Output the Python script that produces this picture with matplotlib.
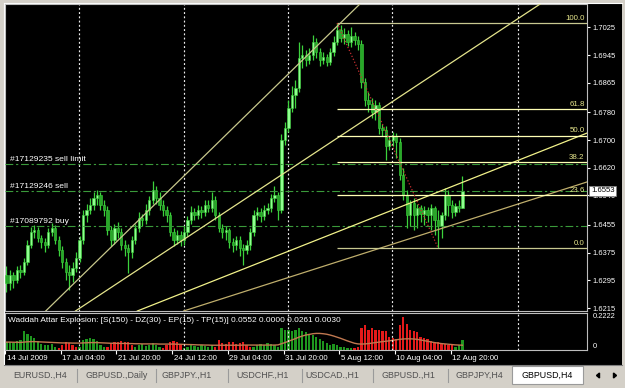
import matplotlib
matplotlib.use("Agg")
import matplotlib.pyplot as plt
import matplotlib.transforms as mtransforms
from matplotlib.patches import Rectangle, Polygon
import numpy as np

plt.rcParams['font.family'] = ['Liberation Sans', 'DejaVu Sans']

# ---------------- data ----------------
header = "GBPUSD,H4  1.6504 1.6595 1.6504 1.6553"
copyright_txt = "copyright waddahattar@hotmail.com"

opens = [1.6311, 1.6288, 1.6311, 1.6296, 1.6325, 1.6319, 1.6348, 1.6397, 1.6435, 1.6440,
         1.6417, 1.6406, 1.6397, 1.6435, 1.6446, 1.6412, 1.6383, 1.6348, 1.6319, 1.6311,
         1.6331, 1.6360, 1.6412, 1.6484, 1.6498, 1.6512, 1.6533, 1.6541, 1.6512, 1.6498,
         1.6440, 1.6412, 1.6446, 1.6435, 1.6397, 1.6389, 1.6377, 1.6412, 1.6446, 1.6475,
         1.6469, 1.6498, 1.6527, 1.6556, 1.6533, 1.6512, 1.6498, 1.6484, 1.6435, 1.6412,
         1.6426, 1.6412, 1.6435, 1.6469, 1.6492, 1.6484, 1.6498, 1.6492, 1.6512, 1.6504,
         1.6527, 1.6484, 1.6446, 1.6435, 1.6440, 1.6406, 1.6397, 1.6412, 1.6389, 1.6383,
         1.6397, 1.6435, 1.6484, 1.6492, 1.6481, 1.6498, 1.6504, 1.6533, 1.6541, 1.6498,
         1.6700, 1.6735, 1.6792, 1.6830, 1.6850, 1.6937, 1.6945, 1.6931, 1.6945, 1.6983,
         1.6954, 1.6931, 1.6939, 1.6925, 1.6954, 1.6983, 1.7017, 1.6994, 1.7006, 1.6983,
         1.7000, 1.6988, 1.6977, 1.6867, 1.6815, 1.6804, 1.6781, 1.6801, 1.6735, 1.6729,
         1.6683, 1.6700, 1.6712, 1.6694, 1.6599, 1.6541, 1.6484, 1.6518, 1.6484, 1.6504,
         1.6487, 1.6498, 1.6484, 1.6504, 1.6469, 1.6452, 1.6484, 1.6541, 1.6512, 1.6492,
         1.6510, 1.6504]
highs = [1.6337, 1.6325, 1.6319, 1.6337, 1.6340, 1.6360, 1.6412, 1.6449, 1.6455, 1.6449,
         1.6426, 1.6417, 1.6446, 1.6461, 1.6455, 1.6423, 1.6394, 1.6360, 1.6340, 1.6348,
         1.6377, 1.6423, 1.6498, 1.6515, 1.6533, 1.6550, 1.6556, 1.6550, 1.6527, 1.6510,
         1.6452, 1.6458, 1.6464, 1.6446, 1.6412, 1.6400, 1.6423, 1.6458, 1.6492, 1.6487,
         1.6515, 1.6539, 1.6582, 1.6567, 1.6550, 1.6527, 1.6510, 1.6492, 1.6446, 1.6440,
         1.6438, 1.6452, 1.6481, 1.6510, 1.6504, 1.6512, 1.6510, 1.6527, 1.6527, 1.6550,
         1.6539, 1.6492, 1.6458, 1.6452, 1.6446, 1.6417, 1.6423, 1.6423, 1.6400, 1.6412,
         1.6446, 1.6498, 1.6507, 1.6504, 1.6512, 1.6518, 1.6544, 1.6567, 1.6550, 1.6717,
         1.6752, 1.6815, 1.6856, 1.6873, 1.6983, 1.6974, 1.6960, 1.6965, 1.7003, 1.6994,
         1.6965, 1.6954, 1.6948, 1.6965, 1.7000, 1.7038, 1.7032, 1.7023, 1.7017, 1.7026,
         1.7012, 1.7000, 1.6988, 1.6879, 1.6838, 1.6821, 1.6815, 1.6810, 1.6746, 1.6740,
         1.6712, 1.6723, 1.6720, 1.6706, 1.6619, 1.6556, 1.6527, 1.6533, 1.6515, 1.6512,
         1.6510, 1.6507, 1.6515, 1.6510, 1.6498, 1.6492, 1.6562, 1.6556, 1.6527, 1.6518,
         1.6527, 1.6595]
lows = [1.6262, 1.6267, 1.6273, 1.6288, 1.6302, 1.6311, 1.6340, 1.6389, 1.6417, 1.6406,
        1.6389, 1.6377, 1.6389, 1.6423, 1.6400, 1.6365, 1.6331, 1.6296, 1.6267, 1.6290,
        1.6319, 1.6348, 1.6400, 1.6464, 1.6487, 1.6498, 1.6512, 1.6498, 1.6481, 1.6426,
        1.6394, 1.6400, 1.6417, 1.6383, 1.6365, 1.6316, 1.6360, 1.6400, 1.6435, 1.6452,
        1.6458, 1.6484, 1.6515, 1.6515, 1.6498, 1.6481, 1.6464, 1.6423, 1.6394, 1.6400,
        1.6394, 1.6397, 1.6423, 1.6458, 1.6469, 1.6472, 1.6475, 1.6481, 1.6492, 1.6492,
        1.6469, 1.6435, 1.6417, 1.6412, 1.6389, 1.6377, 1.6383, 1.6365, 1.6340, 1.6371,
        1.6383, 1.6423, 1.6469, 1.6464, 1.6469, 1.6487, 1.6492, 1.6521, 1.6469, 1.6489,
        1.6686, 1.6723, 1.6781, 1.6792, 1.6838, 1.6908, 1.6913, 1.6919, 1.6931, 1.6937,
        1.6913, 1.6919, 1.6913, 1.6916, 1.6942, 1.6974, 1.6983, 1.6977, 1.6971, 1.6968,
        1.6974, 1.6960, 1.6850, 1.6798, 1.6781, 1.6764, 1.6758, 1.6717, 1.6712, 1.6642,
        1.6671, 1.6683, 1.6648, 1.6585, 1.6527, 1.6446, 1.6452, 1.6440, 1.6446, 1.6464,
        1.6455, 1.6464, 1.6440, 1.6426, 1.6389, 1.6417, 1.6469, 1.6481, 1.6475, 1.6481,
        1.6492, 1.6504]
closes = [1.6288, 1.6311, 1.6296, 1.6325, 1.6319, 1.6348, 1.6397, 1.6435, 1.6440, 1.6417,
          1.6406, 1.6397, 1.6435, 1.6446, 1.6412, 1.6383, 1.6348, 1.6319, 1.6311, 1.6331,
          1.6360, 1.6412, 1.6484, 1.6498, 1.6512, 1.6533, 1.6541, 1.6512, 1.6498, 1.6440,
          1.6412, 1.6446, 1.6435, 1.6397, 1.6389, 1.6377, 1.6412, 1.6446, 1.6475, 1.6469,
          1.6498, 1.6527, 1.6556, 1.6533, 1.6512, 1.6498, 1.6484, 1.6435, 1.6412, 1.6426,
          1.6412, 1.6435, 1.6469, 1.6492, 1.6484, 1.6498, 1.6492, 1.6512, 1.6504, 1.6527,
          1.6484, 1.6446, 1.6435, 1.6440, 1.6406, 1.6397, 1.6412, 1.6389, 1.6383, 1.6397,
          1.6435, 1.6484, 1.6492, 1.6481, 1.6498, 1.6504, 1.6533, 1.6541, 1.6498, 1.6700,
          1.6735, 1.6792, 1.6830, 1.6850, 1.6937, 1.6945, 1.6931, 1.6945, 1.6983, 1.6954,
          1.6931, 1.6939, 1.6925, 1.6954, 1.6983, 1.7017, 1.6994, 1.7006, 1.6983, 1.7000,
          1.6988, 1.6977, 1.6867, 1.6815, 1.6804, 1.6781, 1.6801, 1.6735, 1.6729, 1.6683,
          1.6700, 1.6712, 1.6694, 1.6599, 1.6541, 1.6484, 1.6518, 1.6484, 1.6504, 1.6487,
          1.6498, 1.6484, 1.6504, 1.6469, 1.6452, 1.6484, 1.6541, 1.6512, 1.6492, 1.6510,
          1.6504, 1.6553]

price_ticks = [1.7025, 1.6945, 1.6865, 1.6780, 1.6700, 1.6620, 1.6540, 1.6455, 1.6375, 1.6295, 1.6215]
time_tick_bars = [-0.4, 15.6, 31.6, 47.6, 63.6, 79.6, 95.6, 111.6, 127.6]
time_labels = ["14 Jul 2009", "17 Jul 04:00", "21 Jul 20:00", "24 Jul 12:00", "29 Jul 04:00",
               "31 Jul 20:00", "5 Aug 12:00", "10 Aug 04:00", "12 Aug 20:00"]
grid_bars = [20.7, 50.9, 81.0, 110.9, 147.1]

fib_levels = [0.0, 23.6, 38.2, 50.0, 61.8, 100.0]
fib_low, fib_high = 1.6389, 1.7037
fib_high_bar, fib_low_bar = 95, 124

order_labels = ["#17129235 sell limit", "#17129246 sell", "#17089792 buy"]
order_prices = [1.6630, 1.6553, 1.6452]

trend_p1 = [(11.6, 1.6210), (20.3, 1.6210), (38.4, 1.6210), (51.9, 1.6210)]
trend_p2 = [(90.1, 1.6980), (153.3, 1.7092), (166.8, 1.6720), (166.8, 1.6579)]
trend_colors = ['#c8c88c', '#e4e48c', '#f2f28a', '#bfae6c']

wae_title = "Waddah Attar Explosion: [S(150) - DZ(30) - EP(15) - TP(15)] 0.0552 0.0000 0.0261 0.0030"
wae = [0.043, 0.048, 0.039, 0.052, 0.056, 0.113, 0.095, 0.082, 0.069, 0.052,
       0.035, 0.026, 0.030, 0.035, 0.017, -0.009, -0.026, -0.043, -0.039, -0.030,
       -0.017, 0.017, 0.056, 0.065, 0.069, 0.065, 0.052, 0.026, 0.013, -0.017,
       -0.039, -0.048, -0.043, -0.052, -0.048, -0.043, -0.030, 0.013, 0.026, 0.035,
       0.022, 0.030, 0.039, 0.026, 0.017, -0.009, -0.026, -0.048, -0.052, -0.043,
       -0.035, 0.009, 0.017, 0.026, 0.022, 0.017, 0.026, 0.022, 0.017, 0.026,
       -0.013, -0.056, -0.039, -0.035, -0.048, -0.043, -0.035, -0.039, -0.048, -0.026,
       -0.017, 0.017, 0.026, 0.035, 0.030, 0.039, 0.035, 0.026, 0.017, 0.130,
       0.121, 0.117, 0.113, 0.121, 0.130, 0.113, 0.104, 0.095, 0.087, 0.074,
       0.061, 0.052, 0.039, 0.026, 0.035, 0.026, 0.017, 0.013, 0.009, 0.007,
       -0.009, -0.017, -0.130, -0.147, -0.121, -0.130, -0.121, -0.117, -0.113, -0.113,
       -0.078, -0.069, -0.065, -0.147, -0.200, -0.156, -0.121, -0.113, -0.104, -0.078,
       -0.069, -0.065, -0.052, -0.043, -0.048, -0.039, -0.035, -0.030, -0.026, 0.017,
       0.026, 0.0552]
explosion = [0.045, 0.045, 0.044, 0.044, 0.043, 0.045, 0.047, 0.048, 0.048, 0.047,
             0.046, 0.045, 0.044, 0.043, 0.042, 0.041, 0.040, 0.040, 0.040, 0.039,
             0.039, 0.039, 0.040, 0.041, 0.042, 0.042, 0.042, 0.041, 0.040, 0.039,
             0.038, 0.038, 0.037, 0.037, 0.037, 0.036, 0.036, 0.035, 0.035, 0.034,
             0.034, 0.034, 0.034, 0.034, 0.033, 0.033, 0.033, 0.033, 0.033, 0.032,
             0.032, 0.031, 0.030, 0.030, 0.029, 0.028, 0.028, 0.027, 0.027, 0.026,
             0.026, 0.026, 0.026, 0.026, 0.026, 0.026, 0.026, 0.026, 0.027, 0.027,
             0.027, 0.027, 0.027, 0.027, 0.027, 0.027, 0.027, 0.027, 0.028, 0.035,
             0.042, 0.050, 0.058, 0.066, 0.075, 0.082, 0.088, 0.092, 0.096, 0.098,
             0.098, 0.096, 0.093, 0.088, 0.082, 0.075, 0.068, 0.060, 0.052, 0.045,
             0.038, 0.034, 0.033, 0.034, 0.036, 0.039, 0.042, 0.045, 0.048, 0.050,
             0.053, 0.056, 0.059, 0.062, 0.064, 0.065, 0.065, 0.064, 0.062, 0.058,
             0.054, 0.050, 0.046, 0.042, 0.039, 0.036, 0.034, 0.032, 0.030, 0.028,
             0.027, 0.0261]
wae_max = 0.2222

tabs = ["EURUSD.,H4", "GBPUSD.,Daily", "GBPJPY.,H1", "USDCHF.,H1", "USDCAD.,H1",
        "GBPUSD.,H1", "GBPJPY,H4", "GBPUSD,H4"]

# ---------------- figure ----------------
W, H = 625, 388
fig = plt.figure(figsize=(W / 100, H / 100), dpi=100)
fig.patch.set_facecolor('#d4d0c8')

bg = fig.add_axes([0, 0, 1, 1], zorder=0)
bg.set_xlim(0, W)
bg.set_ylim(H, 0)
bg.axis('off')
bg.add_patch(Rectangle((4, 3), 618, 361.5, facecolor='black', edgecolor='none'))
bg.plot([3.5, 3.5], [2.5, 364.5], color='white', lw=0.8)
bg.plot([3.5, 622], [2.5, 2.5], color='white', lw=0.8)
bg.plot([4, 622], [364.5, 364.5], color='#808080', lw=0.8)

# tab strip
tab_centers = [40.5, 117, 187, 262.5, 332.5, 408, 479.5, 547.5]
seps = [77, 156, 228, 302, 373, 448]
bg.add_patch(Rectangle((512, 366), 71, 18, facecolor='white', edgecolor='#9a9a9a', lw=0.8))
for i, (t, cx) in enumerate(zip(tabs, tab_centers)):
    bg.text(cx, 375.5, t, ha='center', va='center', fontsize=6.4,
            color='black' if i == len(tabs) - 1 else '#505050')
for s in seps:
    bg.plot([s, s], [369, 382], color='#9a9a9a', lw=0.8)
bg.add_patch(Polygon([[596.5, 375.5], [599.5, 373], [599.5, 378]], closed=True, color='black'))
bg.add_patch(Polygon([[616.5, 375.5], [613.5, 373], [613.5, 378]], closed=True, color='black'))

# header text
bg.text(8, 12, header, fontsize=6.4, color='white', va='center', ha='left')
bg.text(8, 20.5, copyright_txt, fontsize=6.4, color='white', va='center', ha='left')
# chart shift marker
bg.add_patch(Polygon([[466, 5], [472, 5], [469, 9]], closed=True, color='#909090'))

# ---------------- main price axes ----------------
x_lo, x_hi = -0.43, 166.8
ax = fig.add_axes([5 / W, 1 - 311 / H, 582 / W, 307 / H], zorder=1)
ax.set_facecolor('black')
ax.set_xlim(x_lo, x_hi)
ax.set_ylim(1.62068, 1.70923)
for sp in ax.spines.values():
    sp.set_color('#bdbdbd')
    sp.set_linewidth(0.8)

n = len(closes)
xs = np.arange(n)
o = np.array(opens); c = np.array(closes); h = np.array(highs); l = np.array(lows)
up = c >= o
ax.vlines(xs, l, h, color='#3cd23c', lw=0.9, zorder=2)
body_bottom = np.minimum(o, c)
body_h = np.maximum(np.abs(c - o), 0.00015)
ax.bar(xs[up], body_h[up], bottom=body_bottom[up], width=0.66,
       color='#90ff90', edgecolor='#3cd23c', lw=0.4, zorder=3)
ax.bar(xs[~up], body_h[~up], bottom=body_bottom[~up], width=0.66,
       color='#28a828', edgecolor='#3cd23c', lw=0.4, zorder=3)

grid_style = (0, (1.6, 2.0))
for gb in grid_bars:
    ax.axvline(gb, color='#ececec', lw=0.85, ls=grid_style, zorder=1)

# order lines
for lab, pr in zip(order_labels, order_prices):
    ax.axhline(pr, color='#3a9a3a', lw=0.8, ls=(0, (7, 2.5, 2, 2.5)), zorder=4)
    ax.text(0.009, pr + 0.0004, lab, transform=mtransforms.blended_transform_factory(ax.transAxes, ax.transData),
            fontsize=6.1, color='white', ha='left', va='bottom', zorder=6)

# trend lines
for p1, p2, col in zip(trend_p1, trend_p2, trend_colors):
    ax.axline(p1, p2, color=col, lw=0.9, zorder=5)

# fibonacci
blend = mtransforms.blended_transform_factory(ax.transAxes, ax.transData)
for lvl in fib_levels:
    pr = fib_low + (fib_high - fib_low) * lvl / 100.0
    col = '#c8c890' if lvl in (0.0, 100.0) else '#ffffb4'
    ax.hlines(pr, fib_high_bar, x_hi, color=col, lw=0.9, zorder=5)
    ax.text(0.996, pr + 0.0003, f"{lvl:.1f}", transform=blend, fontsize=5.7,
            color='#e6e68c', ha='right', va='bottom', zorder=6)
ax.plot([fib_high_bar, fib_low_bar], [fib_high, fib_low], color='#c83030',
        lw=0.9, ls=(0, (1, 1.6)), zorder=5)

ax.set_xticks([])
ax.yaxis.tick_right()
ax.set_yticks(price_ticks)
ax.set_yticklabels([f"{p:.4f}" for p in price_ticks])
ax.tick_params(axis='y', colors='white', labelcolor='white', length=2.5, width=0.8,
               pad=1.5, labelsize=5.4, direction='out')

ax.text(1 + 4 / 582, closes[-1], f"{closes[-1]:.4f}", transform=blend, fontsize=5.6,
        color='black', ha='left', va='center', clip_on=False, zorder=10,
        bbox=dict(boxstyle='square,pad=0.2', facecolor='white', edgecolor='#808080', lw=0.5))

# ---------------- indicator axes ----------------
ax2 = fig.add_axes([5 / W, 1 - 349.5 / H, 582 / W, 36.5 / H], zorder=1)
ax2.set_facecolor('black')
ax2.set_xlim(x_lo, x_hi)
ax2.set_ylim(0, wae_max)
for sp in ax2.spines.values():
    sp.set_color('#bdbdbd')
    sp.set_linewidth(0.8)
wv = np.array(wae)
ax2.bar(xs[wv > 0], wv[wv > 0], width=0.66, color='#1e961e', zorder=2)
ax2.bar(xs[wv < 0], -wv[wv < 0], width=0.66, color='#e41a1a', zorder=2)
ax2.plot(xs, explosion, color='#c07850', lw=1.0, zorder=3)
for gb in grid_bars:
    ax2.axvline(gb, color='#ececec', lw=0.85, ls=grid_style, zorder=4)
ax2.text(0.005, 0.80, wae_title, transform=ax2.transAxes, fontsize=5.95, color='white',
         ha='left', va='center', zorder=6)

ax2.yaxis.tick_right()
ax2.set_yticks([0, wae_max])
ax2.set_yticklabels(['0', f"{wae_max:.4f}"])
ax2.tick_params(axis='y', colors='white', labelcolor='white', length=0, pad=4, labelsize=5.4)
yt = ax2.yaxis.get_major_ticks()
yt[0].label2.set_va('bottom')
yt[1].label2.set_va('top')

ax2.set_xticks(time_tick_bars)
ax2.set_xticklabels(time_labels)
ax2.tick_params(axis='x', colors='white', labelcolor='white', length=3, width=0.8,
                pad=1.0, labelsize=5.7, direction='out')
off = mtransforms.ScaledTranslation(1.5 / 100, 0, fig.dpi_scale_trans)
for lbl in ax2.get_xticklabels():
    lbl.set_horizontalalignment('left')
    lbl.set_transform(lbl.get_transform() + off)

fig.savefig('out.png', dpi=100, facecolor=fig.get_facecolor())
